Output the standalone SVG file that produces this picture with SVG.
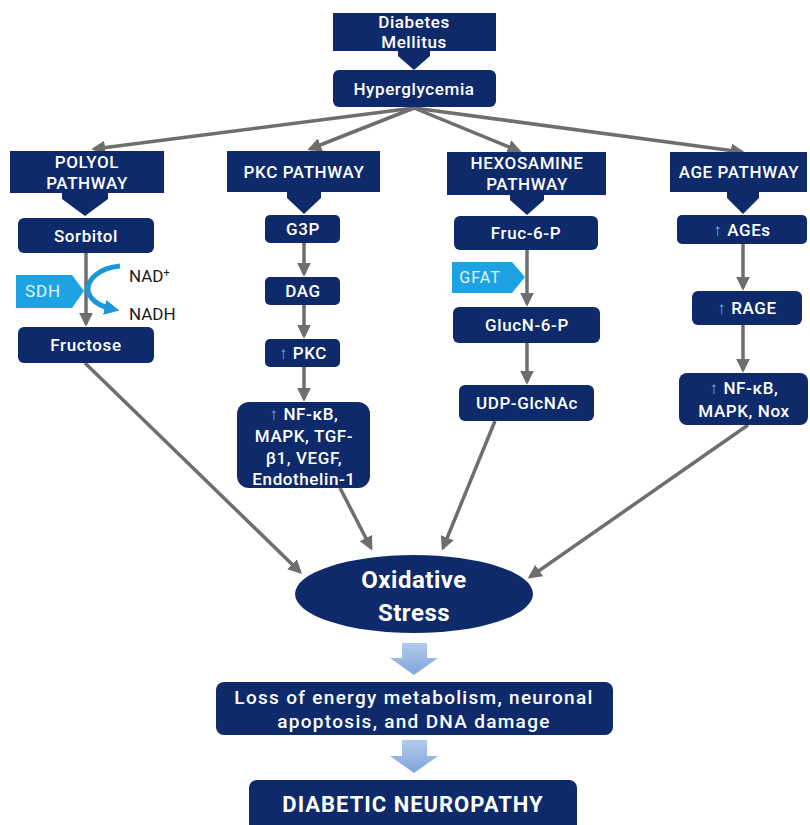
<svg xmlns="http://www.w3.org/2000/svg" width="810" height="825" viewBox="0 0 810 825">
<defs>
<style>
.box{fill:#0e2a6b}
.t{fill:#fff;font-family:Roboto,"Liberation Sans",sans-serif;font-weight:500;font-size:17px;text-anchor:middle;letter-spacing:0.6px}
.tl{font-size:19px;letter-spacing:1.3px}
.tb{fill:#fff;font-family:Roboto,"Liberation Sans",sans-serif;font-weight:700;text-anchor:middle}
.k{fill:#1a1a1a;font-family:Roboto,"Liberation Sans",sans-serif;font-weight:400;font-size:17px}
.ln{stroke:#6e6e6e;stroke-width:3.5;fill:none;marker-end:url(#ah)}
.fat{fill:#0e2a6b}
.lb{fill:url(#lg)}
</style>
<marker id="ah" viewBox="0 0 10 10" refX="8" refY="5" markerWidth="4" markerHeight="4" orient="auto" markerUnits="strokeWidth">
<path d="M0,0 L10,5 L0,10 z" fill="#6e6e6e"/>
</marker>
<marker id="bh" viewBox="0 0 10 10" refX="5" refY="5" markerWidth="3" markerHeight="3" orient="auto" markerUnits="strokeWidth">
<path d="M0,0 L10,5 L0,10 z" fill="#1b96d6"/>
</marker>
<linearGradient id="lg" x1="0" y1="0" x2="0" y2="1">
<stop offset="0" stop-color="#b3cbec"/>
<stop offset="1" stop-color="#7fa5da"/>
</linearGradient>
</defs>
<rect width="810" height="825" fill="#fff"/>

<g id="connectors">
<path class="ln" d="M414,108 L94,149"/>
<path class="ln" d="M414,108 L310,149"/>
<path class="ln" d="M414,108 L519,151"/>
<path class="ln" d="M414,108 L742,152"/>
<path class="ln" d="M86,253 L86,324"/>
<path class="ln" d="M304,243 L304,274"/>
<path class="ln" d="M304,305 L304,336"/>
<path class="ln" d="M304,367 L304,399"/>
<path class="ln" d="M527,250 L527,304"/>
<path class="ln" d="M527,343 L527,382"/>
<path class="ln" d="M743,244 L743,288"/>
<path class="ln" d="M743,325 L743,370"/>
<path class="ln" d="M85,363 L300,572"/>
<path class="ln" d="M340,488 L371,548"/>
<path class="ln" d="M495,421 L443,548"/>
<path class="ln" d="M748,425 L530,577"/>
<path d="M120,266 C98,268 88,280 88,289 C88,298 98,306 112,309" fill="none" stroke="#1b96d6" stroke-width="5" marker-end="url(#bh)"/>
</g>

<g id="diabetes">
<rect class="box" x="333" y="13" width="163" height="38"/>
<text class="t" x="414" y="28">Diabetes</text>
<text class="t" x="414" y="48">Mellitus</text>
<path class="fat" d="M398,50 L430,50 L430,56 L414,70 L398,56 Z"/>
</g>
<g id="hyperglycemia">
<rect class="box" x="333" y="70" width="163" height="37" rx="6"/>
<text class="t" x="414" y="95">Hyperglycemia</text>
</g>

<g id="polyol">
<rect class="box" x="10" y="151" width="154" height="42"/>
<text class="t" x="87" y="168">POLYOL</text>
<text class="t" x="87" y="189">PATHWAY</text>
<path class="fat" d="M62,192 L108,192 L108,199 L85,216 L62,199 Z"/>
</g>
<g id="sorbitol">
<rect class="box" x="18" y="218" width="136" height="35" rx="6"/>
<text class="t" x="86" y="242">Sorbitol</text>
</g>
<g id="sdh">
<path d="M16,275 L72,275 L84,291 L72,308 L16,308 Z" fill="#1da3e3"/>
<text x="43" y="297" fill="#e8f4fb" font-family="Roboto,'Liberation Sans',sans-serif" font-size="17" text-anchor="middle" letter-spacing="0.8">SDH</text>
</g>
<text class="k" x="129" y="282">NAD<tspan font-size="11" dy="-6">+</tspan></text>
<text class="k" x="129" y="320">NADH</text>
<g id="fructose">
<rect class="box" x="18" y="327" width="136" height="36" rx="6"/>
<text class="t" x="86" y="351">Fructose</text>
</g>

<g id="pkc-pathway">
<rect class="box" x="227" y="151" width="153" height="41"/>
<text class="t" x="304" y="178">PKC PATHWAY</text>
<path class="fat" d="M287,191 L321,191 L321,198 L304,214 L287,198 Z"/>
</g>
<g id="g3p">
<rect class="box" x="265" y="215" width="75" height="28" rx="5"/>
<text class="t" x="303" y="235">G3P</text>
</g>
<g id="dag">
<rect class="box" x="265" y="277" width="75" height="28" rx="5"/>
<text class="t" x="303" y="297">DAG</text>
</g>
<g id="pkc">
<rect class="box" x="265" y="339" width="75" height="28" rx="5"/>
<text class="t" x="303" y="359"><tspan fill="#5fb6ea">↑</tspan> PKC</text>
</g>
<g id="pkc-targets">
<rect class="box" x="237" y="402" width="133" height="86" rx="12"/>
<text class="t" x="304" y="420"><tspan fill="#5fb6ea">↑</tspan> NF-κB,</text>
<text class="t" x="304" y="442">MAPK, TGF-</text>
<text class="t" x="304" y="464">β1, VEGF,</text>
<text class="t" x="304" y="485">Endothelin-1</text>
</g>

<g id="hexosamine-pathway">
<rect class="box" x="447" y="152" width="159" height="43"/>
<text class="t" x="527" y="169">HEXOSAMINE</text>
<text class="t" x="527" y="190">PATHWAY</text>
<path class="fat" d="M510,194 L544,194 L544,200 L527,215 L510,200 Z"/>
</g>
<g id="fruc6p">
<rect class="box" x="454" y="216" width="144" height="34" rx="6"/>
<text class="t" x="526" y="239">Fruc-6-P</text>
</g>
<g id="gfat">
<path d="M452,262 L512,262 L525,277 L512,293 L452,293 Z" fill="#1da3e3"/>
<text x="480" y="283" fill="#e8f4fb" font-family="Roboto,'Liberation Sans',sans-serif" font-size="16" text-anchor="middle" letter-spacing="1">GFAT</text>
</g>
<g id="glucn6p">
<rect class="box" x="453" y="307" width="147" height="36" rx="6"/>
<text class="t" x="527" y="331">GlucN-6-P</text>
</g>
<g id="udp">
<rect class="box" x="459" y="385" width="135" height="36" rx="6"/>
<text class="t" x="527" y="409">UDP-GlcNAc</text>
</g>

<g id="age-pathway">
<rect class="box" x="670" y="152" width="137" height="40"/>
<text class="t" x="739" y="178">AGE PATHWAY</text>
<path class="fat" d="M727,191 L759,191 L759,198 L743,214 L727,198 Z"/>
</g>
<g id="ages">
<rect class="box" x="677" y="215" width="130" height="29" rx="5"/>
<text class="t" x="742" y="236"><tspan fill="#5fb6ea">↑</tspan>  AGEs</text>
</g>
<g id="rage">
<rect class="box" x="692" y="291" width="110" height="34" rx="6"/>
<text class="t" x="747" y="314"><tspan fill="#5fb6ea">↑</tspan> RAGE</text>
</g>
<g id="age-targets">
<rect class="box" x="679" y="373" width="129" height="52" rx="8"/>
<text class="t" x="744" y="394"><tspan fill="#5fb6ea">↑</tspan> NF-κB,</text>
<text class="t" x="744" y="417">MAPK, Nox</text>
</g>

<g id="oxidative-stress">
<ellipse class="box" cx="414" cy="594" rx="119" ry="39"/>
<text class="tb" x="414" y="588" font-size="24" letter-spacing="0.5">Oxidative</text>
<text class="tb" x="414" y="621" font-size="24" letter-spacing="0.5">Stress</text>
</g>
<path class="lb" d="M402,643 L427,643 L427,658 L438,658 L414,675 L390,658 L402,658 Z"/>
<g id="loss">
<rect class="box" x="216" y="682" width="397" height="53" rx="8"/>
<text class="t tl" x="414" y="704">Loss of energy metabolism, neuronal</text>
<text class="t tl" x="414" y="728">apoptosis, and DNA damage</text>
</g>
<path class="lb" d="M402,740 L427,740 L427,756 L438,756 L414,773 L390,756 L402,756 Z"/>
<g id="diabetic-neuropathy">
<rect class="box" x="249" y="780" width="328" height="60" rx="8"/>
<text class="tb" x="413" y="812" font-size="22" letter-spacing="1">DIABETIC NEUROPATHY</text>
</g>
</svg>
